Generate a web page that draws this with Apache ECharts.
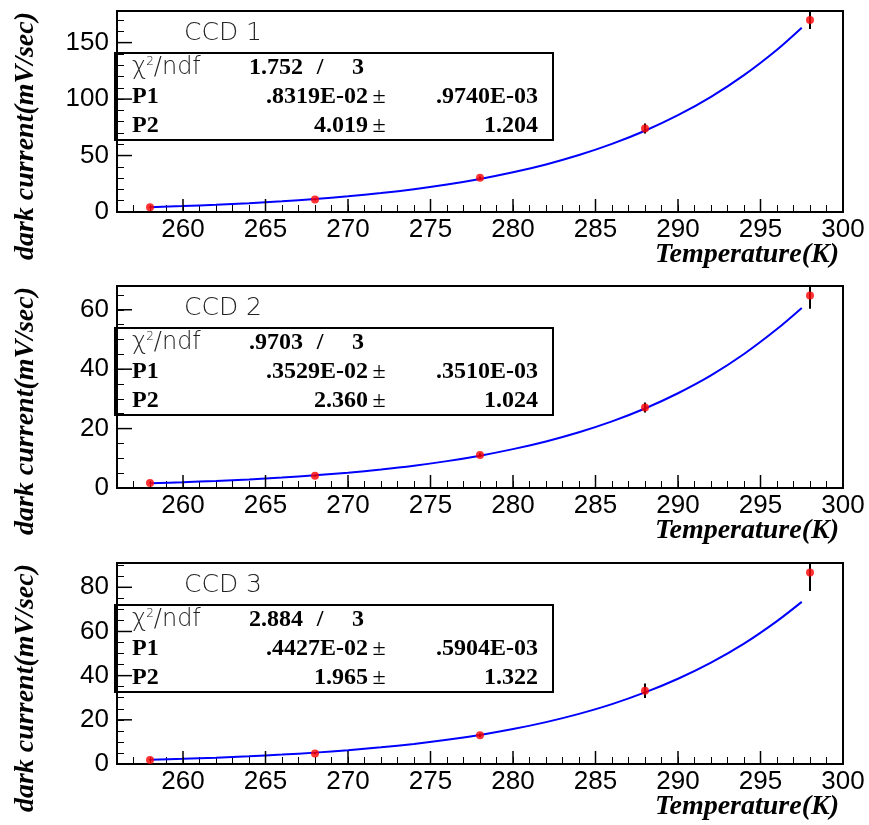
<!DOCTYPE html>
<html><head><meta charset="utf-8">
<script src="https://cdn.jsdelivr.net/npm/echarts@6/dist/echarts.min.js"></script>
<style>html,body{margin:0;padding:0;background:#fff}#c{width:869px;height:825px}</style>
</head><body><div id="c"></div>
<script>
// ---- data ----
const temps = [258, 268, 278, 288, 298];
const ccd1Values = [4.2, 11.0, 30.3, 74.0, 170.0];
const ccd1Errors = [0.4, 0.6, 1.2, 4.4, 8.0];
const ccd2Values = [1.7, 4.1, 11.1, 27.1, 64.8];
const ccd2Errors = [0.2, 0.3, 0.6, 1.7, 4.5];
const ccd3Values = [1.8, 4.8, 13.0, 33.2, 86.7];
const ccd3Errors = [0.3, 0.4, 0.8, 3.3, 8.4];

const fitTemps = [258, 260, 262, 264, 266, 268, 270, 272, 274, 276, 278, 280, 282, 284, 286, 288, 290, 292, 294, 296, 297.5];
const ccd1Fit = [4.3, 5.25, 6.39, 7.77, 9.44, 11.44, 13.85, 16.74, 20.2, 24.33, 29.27, 35.15, 42.14, 50.45, 60.3, 71.96, 85.74, 102.0, 121.2, 143.7, 163.2];
const ccd2Fit = [1.60, 1.95, 2.38, 2.89, 3.51, 4.26, 5.15, 6.23, 7.51, 9.05, 10.89, 13.08, 15.68, 18.77, 22.43, 26.77, 31.9, 37.9, 45.1, 53.5, 60.6];
const ccd3Fit = [1.94, 2.36, 2.88, 3.50, 4.25, 5.15, 6.23, 7.53, 9.09, 10.95, 13.17, 15.82, 18.96, 22.7, 27.1, 32.4, 38.6, 45.9, 54.5, 64.7, 73.4];

const xMajorTicks = [260, 265, 270, 275, 280, 285, 290, 295, 300];
const y1MajorTicks = [0, 50, 100, 150];
const y2MajorTicks = [0, 20, 40, 60];
const y3MajorTicks = [0, 20, 40, 60, 80];

const panelTitles = ['CCD 1', 'CCD 2', 'CCD 3'];
const chi2Values = ['1.752', '.9703', '2.884'];
const ndfValues = ['3', '3', '3'];
const p1Values = ['.8319E-02', '.3529E-02', '.4427E-02'];
const p1Errors = ['.9740E-03', '.3510E-03', '.5904E-03'];
const p2Values = ['4.019', '2.360', '1.965'];
const p2Errors = ['1.204', '1.024', '1.322'];
const xTitle = 'Temperature(K)';
const yTitle = 'dark current(mV/sec)';

// ---- layout ----
const xMin = 256, xMax = 300;
const panels = [
  {top: 11, height: 201, yMax: 178, minor: 10, major: 50, vals: ccd1Values, errs: ccd1Errors, fit: ccd1Fit, yMajor: y1MajorTicks},
  {top: 286, height: 202, yMax: 68, minor: 5, major: 20, vals: ccd2Values, errs: ccd2Errors, fit: ccd2Fit, yMajor: y2MajorTicks},
  {top: 563, height: 201, yMax: 91, minor: 5, major: 20, vals: ccd3Values, errs: ccd3Errors, fit: ccd3Fit, yMajor: y3MajorTicks}
];
const gridLeft = 117, gridRight = 843;

const grids = [], xAxes = [], yAxes = [], series = [], graphics = [];
const serifBold = "'Liberation Serif', 'Times New Roman', serif";
const labelFont = "'Liberation Sans', Arial, sans-serif";

panels.forEach((p, i) => {
  grids.push({left: gridLeft, top: p.top, width: gridRight - gridLeft, height: p.height,
    show: true, borderColor: '#000', borderWidth: 2, backgroundColor: 'transparent'});
  xAxes.push({type: 'value', gridIndex: i, min: xMin, max: xMax, interval: 1,
    axisLine: {show: false}, splitLine: {show: false},
    axisTick: {inside: true, length: 7, lineStyle: {color: '#000', width: 1}},
    axisLabel: {margin: 5, fontSize: 26, color: '#000', fontFamily: labelFont,
      formatter: v => (Math.round(v) % 5 === 0 ? String(Math.round(v)) : '')}});
  yAxes.push({type: 'value', gridIndex: i, min: 0, max: p.yMax, interval: p.minor,
    axisLine: {show: false}, splitLine: {show: false},
    axisTick: {inside: true, length: 7, lineStyle: {color: '#000', width: 1}},
    axisLabel: {margin: 8, fontSize: 26, color: '#000', fontFamily: labelFont,
      formatter: v => (Math.abs(v % p.major) < 1e-9 && v <= p.yMax ? String(v) : '')}});

  // fit curve
  series.push({type: 'line', xAxisIndex: i, yAxisIndex: i, data: fitTemps.map((t, k) => [t, p.fit[k]]),
    smooth: 0.3, showSymbol: false, symbol: 'none', lineStyle: {color: '#0000ff', width: 2}, z: 3, animation: false});
  // error bars
  series.push({type: 'custom', xAxisIndex: i, yAxisIndex: i, data: temps.map((t, k) => [t, p.vals[k], p.errs[k]]),
    encode: {x: 0, y: 1}, z: 4, animation: false,
    renderItem: (params, api) => {
      const x = api.value(0), y = api.value(1), e = api.value(2);
      const a = api.coord([x, y + e]), b = api.coord([x, y - e]);
      const cs = params.coordSys;
      const y1 = Math.max(a[1], cs.y), y2 = Math.min(b[1], cs.y + cs.height);
      return {type: 'line', shape: {x1: a[0], y1: y1, x2: b[0], y2: y2}, style: {stroke: '#000', lineWidth: 2}};
    }});
  // points
  series.push({type: 'scatter', xAxisIndex: i, yAxisIndex: i, data: temps.map((t, k) => [t, p.vals[k]]),
    symbol: 'circle', symbolSize: 8, itemStyle: {color: '#ff0000'}, z: 5, animation: false});
  // major ticks on x
  series.push({type: 'custom', xAxisIndex: i, yAxisIndex: i, data: xMajorTicks.map(v => [v, 0]),
    encode: {x: 0, y: 1}, z: 6, animation: false, silent: true,
    renderItem: (params, api) => {
      const c = api.coord([api.value(0), 0]);
      return {type: 'line', shape: {x1: c[0], y1: c[1], x2: c[0], y2: c[1] - 13}, style: {stroke: '#000', lineWidth: 1.5}};
    }});
  // major ticks on y
  series.push({type: 'custom', xAxisIndex: i, yAxisIndex: i, data: p.yMajor.map(v => [xMin, v]),
    encode: {x: 0, y: 1}, z: 6, animation: false, silent: true,
    renderItem: (params, api) => {
      const c = api.coord([xMin, api.value(1)]);
      return {type: 'line', shape: {x1: c[0], y1: c[1], x2: c[0] + 15, y2: c[1]}, style: {stroke: '#000', lineWidth: 1.5}};
    }});

  // texts
  const top = p.top, bottom = p.top + p.height;
  graphics.push({type: 'text', x: 184, y: top + 22, style: {text: panelTitles[i], font: "200 25px 'DejaVu Sans'",
    fill: '#222', verticalAlign: 'middle', align: 'left'}});
  const boxTop = top + 42, boxH = 87;
  graphics.push({type: 'rect', shape: {x: 115, y: boxTop, width: 553 - 115, height: boxH},
    style: {fill: 'none', stroke: '#000', lineWidth: 2}});
  const r = [boxTop + 15, boxTop + 44, boxTop + 72.5];
  graphics.push({type: 'text', x: 132, y: r[0], style: {
    text: '{a|χ}{s|2}{a|/ndf}', verticalAlign: 'middle', align: 'left',
    rich: {a: {font: "200 24px 'DejaVu Sans'", fill: '#222'}, s: {font: "200 12px 'DejaVu Sans'", fill: '#222', verticalAlign: 'top', padding: [0, 0, 12, 0]}}}});
  const bf = "bold 24px " + serifBold;
  graphics.push({type: 'text', x: 249, y: r[0], style: {text: chi2Values[i], font: bf, fill: '#000', align: 'left', verticalAlign: 'middle'}});
  graphics.push({type: 'text', x: 320, y: r[0], style: {text: '/', font: bf, fill: '#000', align: 'center', verticalAlign: 'middle'}});
  graphics.push({type: 'text', x: 358, y: r[0], style: {text: ndfValues[i], font: bf, fill: '#000', align: 'center', verticalAlign: 'middle'}});
  [['P1', p1Values[i], p1Errors[i]], ['P2', p2Values[i], p2Errors[i]]].forEach((row, k) => {
    const yy = r[k + 1];
    graphics.push({type: 'text', x: 132, y: yy, style: {text: row[0], font: bf, fill: '#000', align: 'left', verticalAlign: 'middle'}});
    graphics.push({type: 'text', x: 368, y: yy, style: {text: row[1], font: bf, fill: '#000', align: 'right', verticalAlign: 'middle'}});
    graphics.push({type: 'text', x: 379, y: yy, style: {text: '±', font: "24px " + serifBold, fill: '#000', align: 'center', verticalAlign: 'middle'}});
    graphics.push({type: 'text', x: 538, y: yy, style: {text: row[2], font: bf, fill: '#000', align: 'right', verticalAlign: 'middle'}});
  });
  graphics.push({type: 'text', x: 839, y: bottom + 43, style: {text: xTitle, font: "italic bold 28px " + serifBold,
    fill: '#000', align: 'right', verticalAlign: 'middle'}});
  graphics.push({type: 'text', x: 26, y: top + 125, rotation: Math.PI / 2, style: {text: yTitle, font: "italic bold 28px " + serifBold,
    fill: '#000', align: 'center', verticalAlign: 'middle'}});
});

const chart = echarts.init(document.getElementById('c'), null, {renderer: 'canvas'});
chart.setOption({
  animation: false,
  backgroundColor: '#fff',
  grid: grids, xAxis: xAxes, yAxis: yAxes, series: series,
  graphic: {elements: graphics}
});
</script>
</body></html>
